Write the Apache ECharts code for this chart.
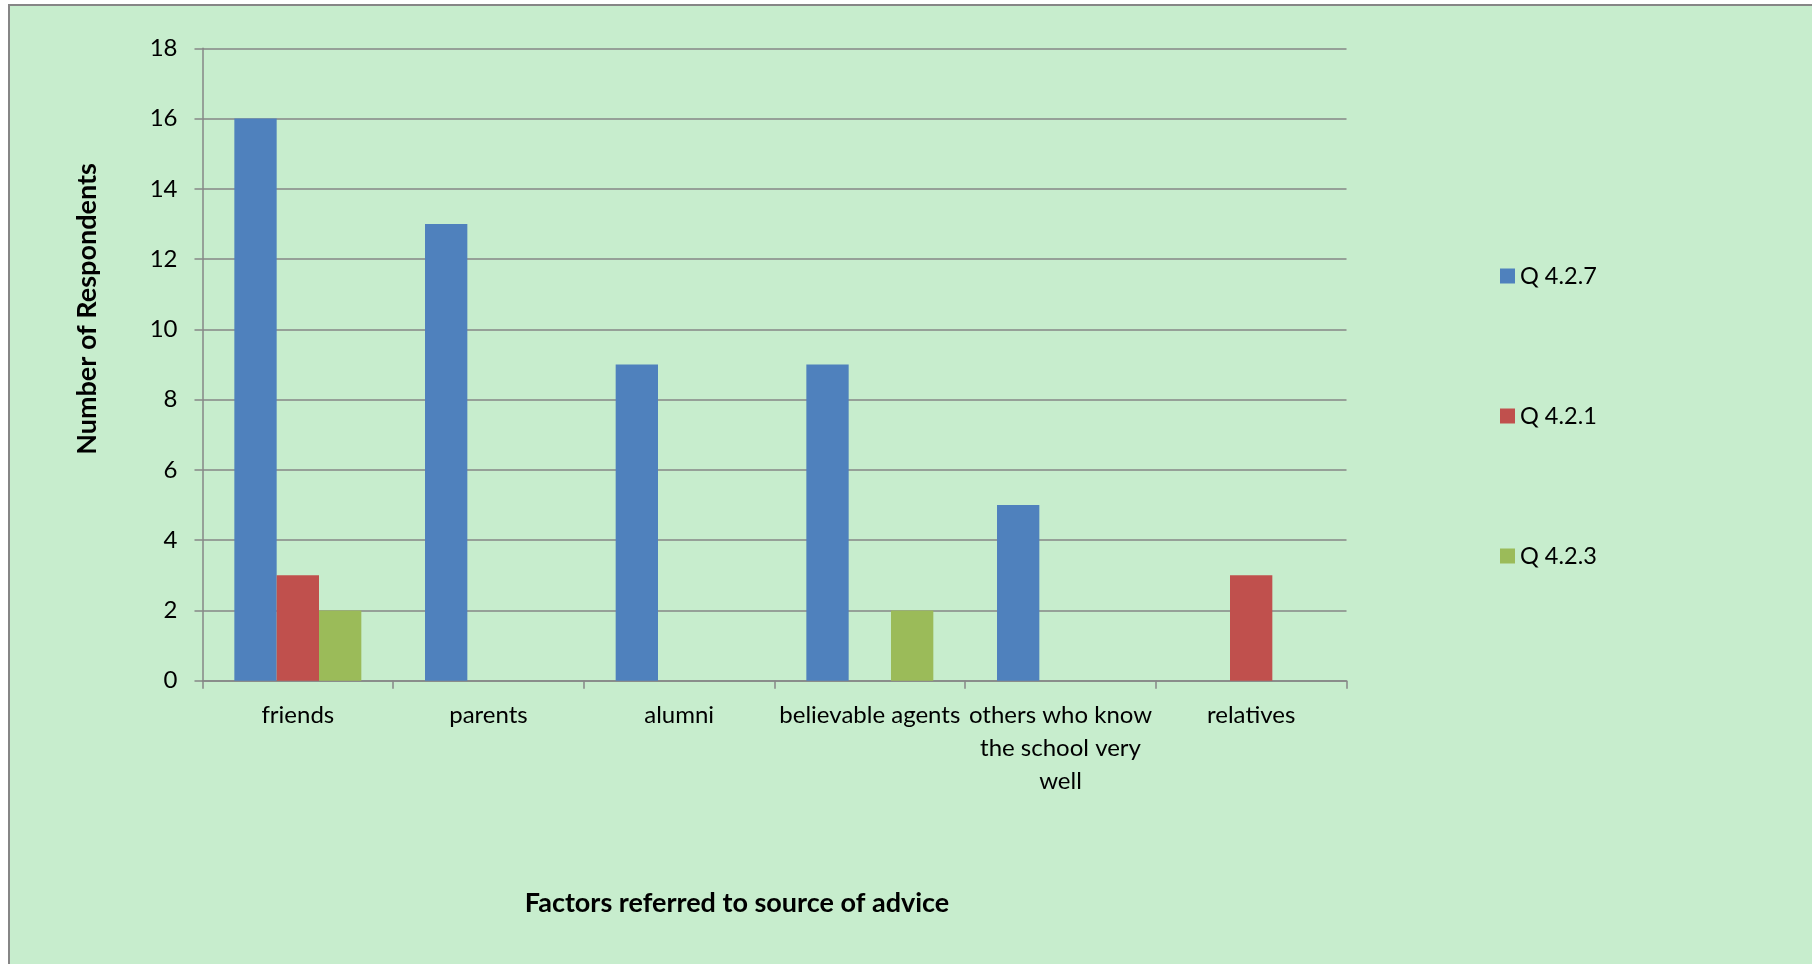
<!DOCTYPE html>
<html>
<head>
<meta charset="utf-8">
<script src="https://cdn.jsdelivr.net/npm/echarts@6/dist/echarts.min.js"></script>
<style>
html,body{margin:0;padding:0;background:#fff;}
#c{width:1812px;height:964px;}
</style>
</head>
<body>
<div id="c"></div>
<script>
const categories = ['friends', 'parents', 'alumni', 'believable agents', 'others who know the school very well', 'relatives'];
const tickLabels = ['friends', 'parents', 'alumni', 'believable agents', 'others who know\nthe school very\nwell', 'relatives'];
const seriesNames = ['Q 4.2.7', 'Q 4.2.1', 'Q 4.2.3'];
const q427 = [16, 13, 9, 9, 5, 0];
const q421 = [3, 0, 0, 0, 0, 3];
const q423 = [2, 0, 0, 2, 0, 0];
const colors = ['#4F81BD', '#C0504D', '#9BBB59'];
const yTicks = [0, 2, 4, 6, 8, 10, 12, 14, 16, 18];

const FONT = 'Lato, "Open Sans", sans-serif';
const chart = echarts.init(document.getElementById('c'), null, {renderer: 'canvas'});
const seriesData = [q427, q421, q423];
chart.setOption({
  backgroundColor: '#ffffff',
  animation: false,
  textStyle: {fontFamily: FONT},
  graphic: [
    {type: 'rect', z: -10, silent: true,
     shape: {x: 9, y: 5, width: 2000, height: 2000},
     style: {fill: '#C7EDCD', stroke: '#868686', lineWidth: 2}},
    {type: 'text', z: 10,
     x: 87, y: 309, rotation: Math.PI / 2,
     style: {text: 'Number of Respondents', font: 'bold 27px ' + FONT, fill: '#000', align: 'center', verticalAlign: 'middle'}},
    {type: 'text', z: 10,
     x: 737, y: 903,
     style: {text: 'Factors referred to source of advice', font: 'bold 27px ' + FONT, fill: '#000', align: 'center', verticalAlign: 'middle'}}
  ],
  legend: {
    orient: 'vertical',
    left: 1500,
    top: 264,
    padding: 0,
    itemWidth: 15,
    itemHeight: 15,
    itemGap: 116,
    icon: 'rect',
    textStyle: {fontSize: 23.5, lineHeight: 24, color: '#000', fontFamily: FONT},
    data: seriesNames
  },
  grid: {left: 202.5, right: 465.5, top: 48.3, bottom: 283.3, containLabel: false},
  xAxis: {
    type: 'category',
    data: categories,
    axisLine: {lineStyle: {color: '#868686', width: 1.5}},
    axisTick: {show: true, length: 8, lineStyle: {color: '#868686', width: 1.5}},
    axisLabel: {
      color: '#000', fontSize: 24, fontFamily: FONT, margin: 18, lineHeight: 33, interval: 0,
      formatter: (v, i) => tickLabels[i]
    }
  },
  yAxis: {
    type: 'value',
    min: 0, max: 18, interval: 2,
    axisLine: {show: true, lineStyle: {color: '#868686', width: 1.5}},
    axisTick: {show: true, length: 8, lineStyle: {color: '#868686', width: 1.5}},
    splitLine: {lineStyle: {color: '#868686', width: 1.5}},
    axisLabel: {color: '#000', fontSize: 24, fontFamily: FONT, margin: 25,
      formatter: v => yTicks.includes(v) ? String(v) : ''}
  },
  series: seriesNames.map((n, i) => ({
    name: n,
    type: 'bar',
    data: seriesData[i],
    itemStyle: {color: colors[i]},
    barGap: '0%',
    barCategoryGap: '33.4%'
  }))
});
</script>
</body>
</html>
